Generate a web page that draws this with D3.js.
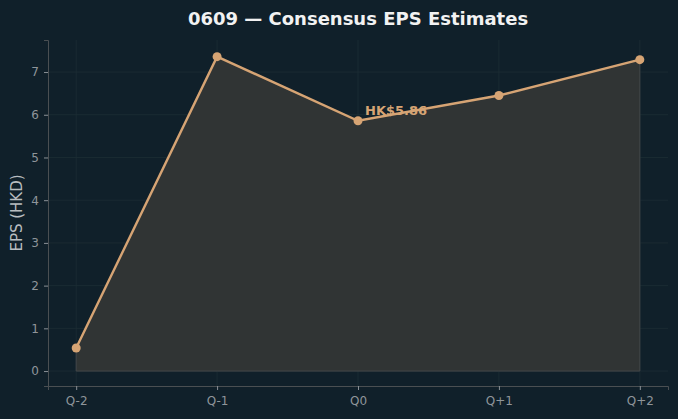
<!DOCTYPE html>
<html>
<head>
<meta charset="utf-8">
<script src="https://cdn.jsdelivr.net/npm/d3@7"></script>
<style>
  html, body { margin: 0; padding: 0; background: #10202a; }
  svg { display: block; font-family: "DejaVu Sans", sans-serif; }
</style>
</head>
<body>
<div id="chart"></div>
<script>
var quarters = ["Q-2", "Q-1", "Q0", "Q+1", "Q+2"];
var epsValues = [0.54, 7.36, 5.86, 6.45, 7.29];
var yTicks = [0, 1, 2, 3, 4, 5, 6, 7];
var highlightIndex = 2;
var highlightLabel = "HK$5.86";

var width = 678, height = 419;
var margin = {top: 40, right: 10, bottom: 33, left: 48};

var svg = d3.select("#chart")
    .append("svg")
    .attr("width", width)
    .attr("height", height)

svg.append("rect")
    .attr("width", width)
    .attr("height", height)
    .attr("fill", "#10202a")

var x = d3.scaleLinear()
    .domain([-0.2, quarters.length - 0.8])
    .range([margin.left, width - margin.right])

var y = d3.scaleLinear()
    .domain([-0.35, 7.75])
    .range([height - margin.bottom, margin.top])

// grid
var grid = svg.append("g")
grid.selectAll(".gy")
    .data(yTicks)
    .enter()
    .append("line")
    .attr("x1", margin.left)
    .attr("x2", width - margin.right)
    .attr("y1", d => y(d))
    .attr("y2", d => y(d))
    .attr("stroke", "#1d2d35")
    .attr("stroke-width", 0.8)
grid.selectAll(".gx")
    .data(quarters)
    .enter()
    .append("line")
    .attr("x1", (d, i) => x(i))
    .attr("x2", (d, i) => x(i))
    .attr("y1", margin.top)
    .attr("y2", height - margin.bottom)
    .attr("stroke", "#1d2d35")
    .attr("stroke-width", 0.8)

// area
var area = d3.area()
    .x((d, i) => x(i))
    .y0(y(0))
    .y1(d => y(d))

svg.append("path")
    .datum(epsValues)
    .attr("d", area)
    .attr("fill", "#303434")
    .attr("stroke", "#44484a")
    .attr("stroke-width", 1)

var line = d3.line()
    .x((d, i) => x(i))
    .y(d => y(d))

svg.append("path")
    .datum(epsValues)
    .attr("d", line)
    .attr("fill", "none")
    .attr("stroke", "#d6a474")
    .attr("stroke-width", 2.4)

svg.selectAll(".dot")
    .data(epsValues)
    .enter()
    .append("circle")
    .attr("cx", (d, i) => x(i))
    .attr("cy", d => y(d))
    .attr("r", 4.5)
    .attr("fill", "#d6a474")

svg.append("text")
    .attr("x", x(highlightIndex) + 7)
    .attr("y", y(epsValues[highlightIndex]) - 6)
    .attr("fill", "#d6a474")
    .style("font-size", "13px")
    .style("font-weight", "bold")
    .text(highlightLabel)

// axes
var yAxis = svg.append("g")
    .attr("transform", "translate(" + margin.left + ",0)")
    .call(d3.axisLeft(y).tickValues(yTicks).tickSize(4).tickPadding(5).tickFormat(d3.format("d")))
var xAxis = svg.append("g")
    .attr("transform", "translate(0," + (height - margin.bottom) + ")")
    .call(d3.axisBottom(x).tickValues(d3.range(quarters.length)).tickSize(4).tickPadding(6).tickFormat(i => quarters[i]))

;[xAxis, yAxis].forEach(function(a) {
    a.select(".domain").attr("stroke", "#4a4f52")
    a.selectAll(".tick line").attr("stroke", "#8a9096")
    a.selectAll(".tick text")
        .attr("fill", "#8f959a")
        .style("font-size", "12px")
        .style("font-family", "DejaVu Sans, sans-serif")
})

svg.append("text")
    .attr("transform", "translate(22," + ((margin.top + height - margin.bottom) / 2) + ") rotate(-90)")
    .attr("text-anchor", "middle")
    .attr("fill", "#b8bdc0")
    .style("font-size", "15px")
    .text("EPS (HKD)")

svg.append("text")
    .attr("x", (margin.left + width - margin.right) / 2)
    .attr("y", 25)
    .attr("text-anchor", "middle")
    .attr("fill", "#f2f2f2")
    .style("font-size", "18px")
    .style("font-weight", "bold")
    .text("0609 — Consensus EPS Estimates")
</script>
</body>
</html>
